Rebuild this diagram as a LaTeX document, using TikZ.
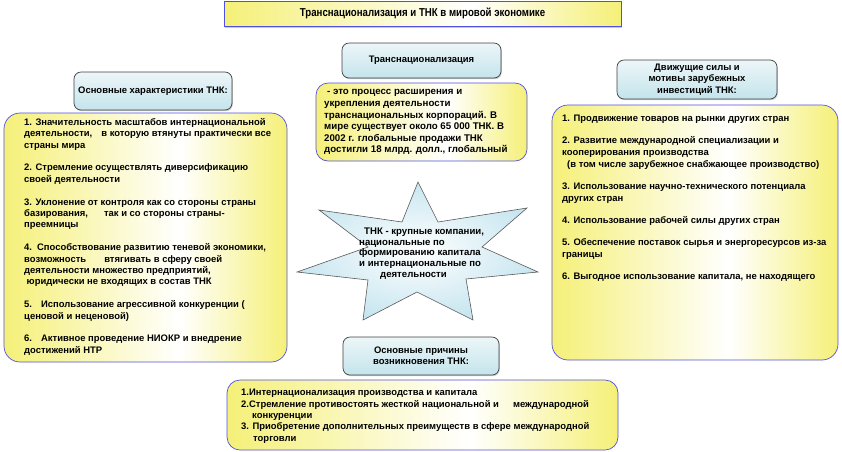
\documentclass[tikz,border=0pt]{standalone}
\usepackage{fontspec}
\setmainfont{Liberation Sans}
\newfontfamily\narrowfont[FakeStretch=0.84]{Liberation Sans}
\usetikzlibrary{shadows}

\definecolor{ylw}{RGB}{245,240,120}
\definecolor{ylwedge}{RGB}{80,80,225}
\definecolor{hdrtop}{RGB}{236,246,248}
\definecolor{hdrbot}{RGB}{196,228,236}
\definecolor{starblue}{RGB}{200,230,240}

\pgfdeclarehorizontalshading{glow}{100bp}{color(0bp)=(ylw); color(25bp)=(ylw);
  color(56bp)=(white); color(75bp)=(ylw); color(100bp)=(ylw)}

\tikzset{
  txt/.style={font=\bfseries\fontsize{9.45}{11.4}\selectfont,inner sep=0pt,align=left,anchor=north west},
  yelbox/.style={draw=ylwedge,line width=0.7pt,shading=glow,rounded corners=16pt,inner sep=0pt},
  hdrbox/.style={draw=black!75,line width=0.7pt,top color=hdrtop,bottom color=hdrbot,
    rounded corners=7pt,align=center,font=\bfseries\fontsize{9.45}{11.4}\selectfont,
    drop shadow={shadow xshift=0.8pt,shadow yshift=-1.2pt,fill=black!40}},
}

\begin{document}
\begin{tikzpicture}[x=1pt,y=-1pt]
  \useasboundingbox (0,0) rectangle (842,451);

  % ====== Title ======
  \node[draw=ylwedge,line width=0.9pt,shading=glow,minimum width=397pt,minimum height=25pt,
    font=\narrowfont\bfseries\fontsize{11.5}{13}\selectfont,
    drop shadow={shadow xshift=1pt,shadow yshift=-1.5pt,fill=black!40}] (title) at (422.5,13.5)
    {Транснационализация и ТНК в мировой экономике};

  % ====== Yellow panels ======
  \node[yelbox,minimum width=283pt,minimum height=249pt] (charbox) at (145.5,237.5) {};
  \node[yelbox,minimum width=211pt,minimum height=78pt,rounded corners=12pt] (defbox) at (421.5,122) {};
  \node[yelbox,minimum width=286pt,minimum height=255pt] (motbox) at (695,232.5) {};
  \node[yelbox,minimum width=391pt,minimum height=70pt,rounded corners=13pt] (causebox) at (422.5,415) {};

  % ====== Headers ======
  \node[hdrbox,minimum width=158pt,minimum height=38pt] (charhdr) at (153,91)
    {Основные характеристики ТНК:};
  \node[hdrbox,minimum width=159pt,minimum height=35pt] (defhdr) at (421.5,60.5)
    {Транснационализация};
  \node[hdrbox,minimum width=160pt,minimum height=39pt] (mothdr) at (697,79.5)
    {Движущие силы и\\мотивы зарубежных\\инвестиций ТНК:};
  \node[hdrbox,minimum width=156pt,minimum height=38pt] (causehdr) at (421,356)
    {Основные причины\\возникновения ТНК:};

  % ====== Star in the middle ======
  \draw[draw=black!65,line width=0.6pt,inner color=white,outer color=starblue]
    (418,182) -- (438,222) -- (527,208) -- (482,247) -- (538,272) -- (466,279)
    -- (473,320) -- (417,292) -- (363,320) -- (368,280) -- (297,272) -- (368,247)
    -- (319,210) -- (402,222) -- cycle;
  \node[txt,font=\bfseries\fontsize{9.6}{10.8}\selectfont] (startxt) at (359,227.5)
    {\hspace*{5pt}ТНК - крупные компании,\\национальные по\\формированию капитала\\и интернациональные по\\\hspace*{21pt}деятельности};

  % ====== Panel texts ======
  \node[txt] (chartxt) at (24,118)
    {1. Значительность масштабов интернациональной\\
     деятельности,\hspace{9pt}в которую втянуты практически все\\
     страны мира\\[11.4pt]
     2. Стремление осуществлять диверсификацию\\
     своей деятельности\\[11.4pt]
     3. Уклонение от контроля как со стороны страны\\
     базирования,\hspace{16pt}так и со стороны страны-\\
     преемницы\\[11.4pt]
     4.\hspace{5pt}Способствование развитию теневой экономики,\\
     возможность\hspace{18pt}втягивать в сферу своей\\
     деятельности множество предприятий,\\
     \hspace*{2.5pt}юридически не входящих в состав ТНК\\[11.4pt]
     5.\hspace{9pt}Использование агрессивной конкуренции (\\
     ценовой и неценовой)\\[11.4pt]
     6.\hspace{9pt}Активное проведение НИОКР и внедрение\\
     достижений НТР};

  \node[txt,font=\bfseries\fontsize{9.7}{11.6}\selectfont] (deftxt) at (324,89.5)
    {\hspace*{3pt}- это процесс расширения и\\
     укрепления деятельности\\
     транснациональных корпораций. В\\
     мире существует около 65 000 ТНК. В\\
     2002 г. глобальные продажи ТНК\\
     достигли 18 млрд. долл., глобальный};

  \node[txt,font=\bfseries\fontsize{9.45}{12}\selectfont] (mottxt) at (562,115)
    {1. Продвижение товаров на рынки других стран\\[10pt]
     2. Развитие международной специализации и\\
     кооперирования производства\\
     \hspace*{5pt}(в том числе зарубежное снабжающее производство)\\[10pt]
     3. Использование научно-технического потенциала\\
     других стран\\[10pt]
     4. Использование рабочей силы других стран\\[10pt]
     5. Обеспечение поставок сырья и энергоресурсов из-за\\
     границы\\[10pt]
     6. Выгодное использование капитала, не находящего};

  \node[txt] (causetxt) at (241,389)
    {1.Интернационализация производства и капитала\\
     2.Стремление противостоять жесткой национальной и\hspace{14pt}международной\\
     \hspace*{11pt}конкуренции\\
     3. Приобретение дополнительных преимуществ в сфере международной\\
     \hspace*{12pt}торговли};
\end{tikzpicture}
\end{document}
